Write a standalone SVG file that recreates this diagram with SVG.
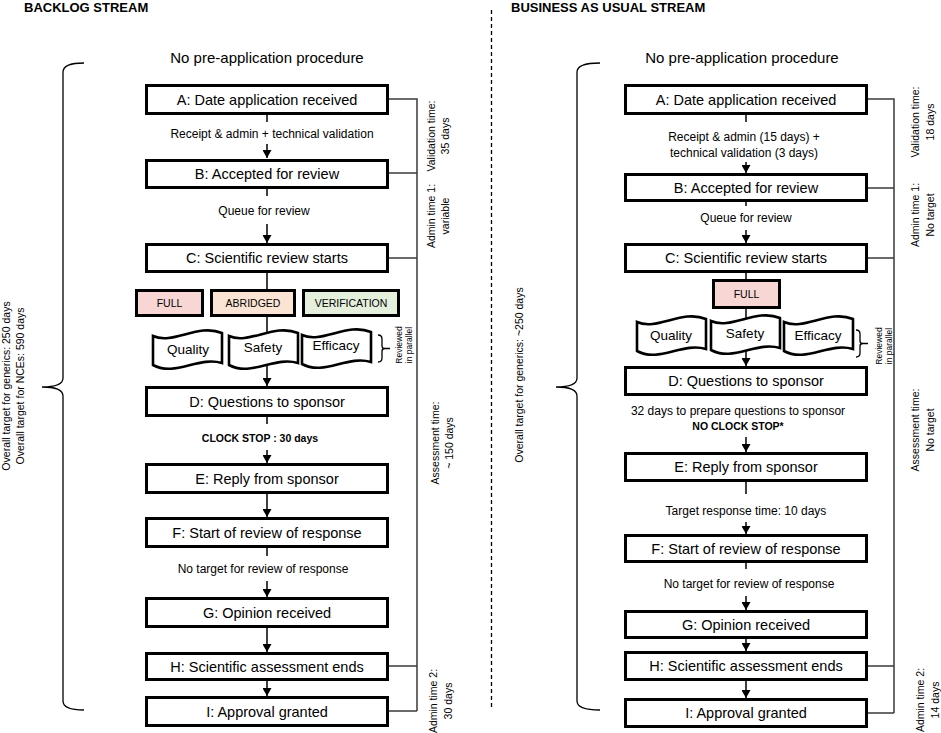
<svg xmlns="http://www.w3.org/2000/svg" width="941" height="733" viewBox="0 0 941 733">
<defs>
<marker id="ah" markerUnits="userSpaceOnUse" markerWidth="9" markerHeight="9" refX="8" refY="4.5" orient="auto"><path d="M0,0 L8,4.5 L0,9 Z" fill="#000"/></marker>
<path id="doc" d="M0,6 C20,15 45,-7 69,3 L69,33 C45,26 22,47 0,35 Z"/>
</defs>
<style>
text{font-family:"Liberation Sans",Arial,sans-serif;fill:#000}
.box{fill:#fff;stroke:#000;stroke-width:3}
.bt{font-size:14.5px;text-anchor:middle}
.lt{font-size:12px;text-anchor:middle}
.bold{font-weight:bold}
.tag{font-size:10.5px;text-anchor:middle}
.dt{font-size:13.5px;text-anchor:middle}
.rot{font-size:10.5px;text-anchor:middle}
.sm{font-size:8.5px;text-anchor:middle}
.con{stroke:#000;stroke-width:1.5;fill:none}
.arr{stroke:#000;stroke-width:1.5;fill:none;marker-end:url(#ah)}
.tl{stroke:#3a3a3a;stroke-width:1.5;fill:none}
.br{stroke:#000;stroke-width:1.3;fill:none}
.docs{fill:#fff;stroke:#000;stroke-width:2.6}
</style>
<rect width="941" height="733" fill="#fff"/>

<!-- headers -->
<text x="24" y="12" class="bold" font-size="13">BACKLOG STREAM</text>
<text x="511" y="12" class="bold" font-size="13">BUSINESS AS USUAL STREAM</text>
<line x1="491.5" y1="10" x2="491.5" y2="710" stroke="#000" stroke-width="1.3" stroke-dasharray="4,3"/>
<text x="267" y="63" font-size="15" text-anchor="middle">No pre-application procedure</text>
<text x="742" y="63" font-size="15" text-anchor="middle">No pre-application procedure</text>

<!-- connectors -->
<g id="connectors">
<!-- left -->
<line class="con" x1="267" y1="115" x2="267" y2="122"/>
<line class="arr" x1="267" y1="144" x2="267" y2="158"/>
<line class="con" x1="267" y1="189" x2="267" y2="196"/>
<line class="arr" x1="267" y1="224" x2="267" y2="243"/>
<line class="con" x1="267" y1="273" x2="267" y2="289"/>
<line class="con" x1="267" y1="317" x2="267" y2="332"/>
<line class="arr" x1="267" y1="366" x2="267" y2="386"/>
<line class="con" x1="267" y1="417" x2="267" y2="424"/>
<line class="arr" x1="267" y1="450" x2="267" y2="463"/>
<line class="arr" x1="267" y1="494" x2="267" y2="517"/>
<line class="con" x1="267" y1="548" x2="267" y2="556"/>
<line class="arr" x1="267" y1="581" x2="267" y2="597"/>
<line class="arr" x1="267" y1="628" x2="267" y2="652"/>
<line class="arr" x1="267" y1="681" x2="267" y2="696"/>
<path class="tl" d="M389,99 H417 V711 M389,173 H417 M389,258 H417 M389,666 H417 M389,711 H417"/>
<!-- right -->
<line class="con" x1="746" y1="115" x2="746" y2="122"/>
<line class="arr" x1="746" y1="162" x2="746" y2="173"/>
<line class="con" x1="746" y1="202" x2="746" y2="206"/>
<line class="arr" x1="746" y1="230" x2="746" y2="243"/>
<line class="con" x1="746" y1="273" x2="746" y2="279"/>
<line class="con" x1="746" y1="309" x2="746" y2="318"/>
<line class="arr" x1="746" y1="350" x2="746" y2="366"/>
<line class="arr" x1="746" y1="437" x2="746" y2="452"/>
<line class="con" x1="746" y1="482" x2="746" y2="494"/>
<line class="arr" x1="746" y1="522" x2="746" y2="534"/>
<line class="con" x1="746" y1="563" x2="746" y2="569"/>
<line class="arr" x1="746" y1="596" x2="746" y2="610"/>
<line class="arr" x1="746" y1="639" x2="746" y2="651"/>
<line class="arr" x1="746" y1="681" x2="746" y2="698"/>
<path class="tl" d="M866,99 H894 V713 M866,188 H894 M866,258 H894 M866,666 H894 M866,713 H894"/>
</g>

<!-- left brackets -->
<path class="br" d="M84,63 Q63,63 63,72 L63,378 Q63,387 42,387 Q63,387 63,396 L63,701 Q63,710 84,710"/>
<path class="br" d="M600,63 Q577,63 577,72 L577,378 Q577,387 556,387 Q577,387 577,396 L577,701 Q577,710 600,710"/>
<text class="rot" font-size="11" transform="translate(10,386) rotate(-90)">Overall target for generics: 250  days</text>
<text class="rot" font-size="11" transform="translate(24,386) rotate(-90)">Overall target for NCEs: 590  days</text>
<text class="rot" font-size="11" transform="translate(523,375) rotate(-90)">Overall target for generics: ~250  days</text>

<!-- LEFT nodes -->
<g id="L-A"><rect class="box" x="146.5" y="85.5" width="241" height="28"/><text class="bt" x="267" y="104.5">A: Date application received</text></g>
<text class="lt" x="272" y="138">Receipt &amp; admin + technical validation</text>
<g id="L-B"><rect class="box" x="146.5" y="160.5" width="241" height="27"/><text class="bt" x="267" y="179">B: Accepted for review</text></g>
<text class="lt" x="264" y="215">Queue for review</text>
<g id="L-C"><rect class="box" x="146.5" y="244.5" width="241" height="27"/><text class="bt" x="267" y="263">C: Scientific review starts</text></g>
<g id="L-full"><rect class="box" x="136.5" y="290.5" width="66" height="25" style="fill:#f8d6d4"/><text class="tag" x="169.5" y="307">FULL</text></g>
<g id="L-abridged"><rect class="box" x="211.5" y="290.5" width="83" height="25" style="fill:#fce4d5"/><text class="tag" x="253" y="307">ABRIDGED</text></g>
<g id="L-verification"><rect class="box" x="303.5" y="290.5" width="95" height="25" style="fill:#e4efdc"/><text class="tag" x="351" y="307">VERIFICATION</text></g>
<g id="L-quality"><use href="#doc" class="docs" transform="translate(153,330)"/><text class="dt" x="188" y="354">Quality</text></g>
<g id="L-safety"><use href="#doc" class="docs" transform="translate(229,330)"/><text class="dt" x="263" y="352">Safety</text></g>
<g id="L-efficacy"><use href="#doc" class="docs" transform="translate(302,329)"/><text class="dt" x="336" y="350">Efficacy</text></g>
<path class="br" d="M378,335 Q382,335 382,339 L382,346 Q382,348.5 385,348.5 L390,348.5 M385,348.5 Q382,348.5 382,351 L382,358 Q382,362 378,362"/>
<text class="sm" transform="translate(402,345) rotate(-90)">Reviewed</text>
<text class="sm" transform="translate(412,345) rotate(-90)">in parallel</text>
<g id="L-D"><rect class="box" x="146.5" y="387.5" width="241" height="28"/><text class="bt" x="267" y="406.5">D: Questions to sponsor</text></g>
<text class="tag bold" font-size="11" x="260" y="442">CLOCK STOP : 30 days</text>
<g id="L-E"><rect class="box" x="146.5" y="464.5" width="241" height="28"/><text class="bt" x="267" y="483.5">E: Reply from sponsor</text></g>
<g id="L-F"><rect class="box" x="146.5" y="518.5" width="241" height="28"/><text class="bt" x="267" y="537.5">F: Start of review of response</text></g>
<text class="lt" x="263" y="573">No target for review of response</text>
<g id="L-G"><rect class="box" x="146.5" y="598.5" width="241" height="28"/><text class="bt" x="267" y="617.5">G: Opinion received</text></g>
<g id="L-H"><rect class="box" x="146.5" y="653.5" width="241" height="26"/><text class="bt" x="267" y="671.5">H: Scientific assessment ends</text></g>
<g id="L-I"><rect class="box" x="146.5" y="697.5" width="241" height="28"/><text class="bt" x="267" y="716.5">I: Approval granted</text></g>

<!-- left timeline labels -->
<text class="rot" transform="translate(435,136) rotate(-90)">Validation time:</text>
<text class="rot" transform="translate(449,136) rotate(-90)">35 days</text>
<text class="rot" transform="translate(435,216) rotate(-90)">Admin  time 1:</text>
<text class="rot" transform="translate(449,216) rotate(-90)">variable</text>
<text class="rot" transform="translate(439,443) rotate(-90)">Assessment time:</text>
<text class="rot" transform="translate(453,443) rotate(-90)">~ 150 days</text>
<text class="rot" transform="translate(437,701) rotate(-90)">Admin time 2:</text>
<text class="rot" transform="translate(452,701) rotate(-90)">30 days</text>

<!-- RIGHT nodes -->
<g id="R-A"><rect class="box" x="625.5" y="85.5" width="241" height="28"/><text class="bt" x="746" y="104.5">A: Date application received</text></g>
<text class="lt" x="744" y="141">Receipt &amp; admin  (15 days) +</text>
<text class="lt" x="744" y="157">technical validation (3 days)</text>
<g id="R-B"><rect class="box" x="625.5" y="174.5" width="241" height="26"/><text class="bt" x="746" y="192.5">B: Accepted for review</text></g>
<text class="lt" x="746" y="222">Queue for review</text>
<g id="R-C"><rect class="box" x="625.5" y="244.5" width="241" height="27"/><text class="bt" x="746" y="263">C: Scientific review starts</text></g>
<g id="R-full"><rect class="box" x="713.5" y="280.5" width="66" height="27" style="fill:#f8d6d4"/><text class="tag" x="746.5" y="298">FULL</text></g>
<g id="R-quality"><use href="#doc" class="docs" transform="translate(637,316)"/><text class="dt" x="671" y="340">Quality</text></g>
<g id="R-safety"><use href="#doc" class="docs" transform="translate(711,315)"/><text class="dt" x="745" y="338">Safety</text></g>
<g id="R-efficacy"><use href="#doc" class="docs" transform="translate(784,316)"/><text class="dt" x="818" y="340">Efficacy</text></g>
<path class="br" d="M856,330 Q860,330 860,334 L860,341 Q860,343.5 863,343.5 L868,343.5 M863,343.5 Q860,343.5 860,346 L860,353 Q860,357 856,357"/>
<text class="sm" transform="translate(882,346) rotate(-90)">Reviewed</text>
<text class="sm" transform="translate(892,346) rotate(-90)">in parallel</text>
<g id="R-D"><rect class="box" x="625.5" y="367.5" width="241" height="27"/><text class="bt" x="746" y="386">D: Questions to sponsor</text></g>
<text class="lt" x="738" y="415">32 days to prepare questions to sponsor</text>
<text class="tag bold" font-size="11" x="738" y="430">NO CLOCK STOP*</text>
<g id="R-E"><rect class="box" x="625.5" y="453.5" width="241" height="27"/><text class="bt" x="746" y="472">E: Reply from sponsor</text></g>
<text class="lt" x="746" y="515">Target response time: 10 days</text>
<g id="R-F"><rect class="box" x="625.5" y="535.5" width="241" height="26"/><text class="bt" x="746" y="553.5">F: Start of review of response</text></g>
<text class="lt" x="749" y="588">No target for review of response</text>
<g id="R-G"><rect class="box" x="625.5" y="611.5" width="241" height="26"/><text class="bt" x="746" y="629.5">G: Opinion received</text></g>
<g id="R-H"><rect class="box" x="625.5" y="652.5" width="241" height="27"/><text class="bt" x="746" y="671">H: Scientific assessment ends</text></g>
<g id="R-I"><rect class="box" x="625.5" y="699.5" width="241" height="27"/><text class="bt" x="746" y="718">I: Approval granted</text></g>

<!-- right timeline labels -->
<text class="rot" transform="translate(919,122) rotate(-90)">Validation time:</text>
<text class="rot" transform="translate(934,122) rotate(-90)">18 days</text>
<text class="rot" transform="translate(919,215) rotate(-90)">Admin  time 1:</text>
<text class="rot" transform="translate(934,215) rotate(-90)">No target</text>
<text class="rot" transform="translate(919,430) rotate(-90)">Assessment time:</text>
<text class="rot" transform="translate(934,430) rotate(-90)">No target</text>
<text class="rot" transform="translate(924,700) rotate(-90)">Admin time 2:</text>
<text class="rot" transform="translate(939,700) rotate(-90)">14 days</text>
</svg>
